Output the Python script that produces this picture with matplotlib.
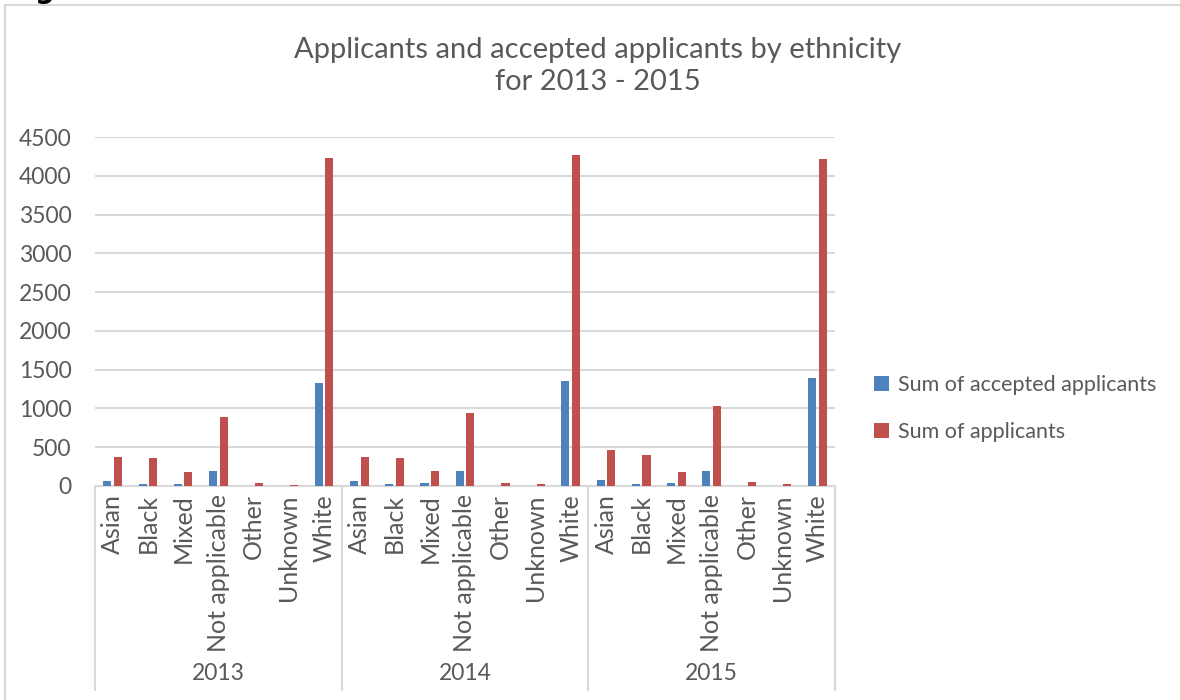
import numpy as np
import matplotlib.pyplot as plt
from matplotlib.transforms import blended_transform_factory
from matplotlib.lines import Line2D

# data
years = ['2013', '2014', '2015']
ethnicities = ['Asian', 'Black', 'Mixed', 'Not applicable', 'Other', 'Unknown', 'White']
accepted = [
    [65, 30, 30, 195, 0, 0, 1328],   # 2013
    [61, 22, 43, 199, 0, 0, 1350],   # 2014
    [78, 30, 43, 199, 0, 0, 1397],   # 2015
]
applicants = [
    [368, 360, 182, 896, 35, 13, 4227],
    [372, 360, 190, 935, 43, 26, 4262],
    [463, 398, 182, 1030, 52, 26, 4222],
]

blue = '#4F81BD'
red = '#C0504D'
grey_txt = '#595959'
grid_c = '#D9D9D9'

plt.rcParams['font.family'] = ['Lato', 'DejaVu Sans']

fig = plt.figure(figsize=(11.8, 7), dpi=100)
ax = fig.add_axes([95 / 1180, 1 - 486 / 700, 740 / 1180, 349 / 700])

acc = np.array(accepted).ravel()
app = np.array(applicants).ravel()
labels = ethnicities * len(years)
x = np.arange(len(labels))

ax.bar(x - 0.15, acc, width=0.23, color=blue, label='Sum of accepted applicants', zorder=3)
ax.bar(x + 0.15, app, width=0.23, color=red, label='Sum of applicants', zorder=3)

ax.set_xlim(-0.5, len(labels) - 0.5)
ax.set_ylim(0, 4500)
ax.set_yticks(np.arange(0, 4501, 500))
ax.yaxis.grid(True, color=grid_c, linewidth=1.5, zorder=0)
ax.tick_params(axis='y', length=0, pad=17, labelsize=16.5, labelcolor=grey_txt)
ax.set_xticks(x)
ax.set_xticklabels(labels, rotation=90, fontsize=18, color=grey_txt)
ax.tick_params(axis='x', length=0, pad=6)

for s in ['top', 'right', 'left']:
    ax.spines[s].set_visible(False)
ax.spines['bottom'].set_color(grid_c)
ax.spines['bottom'].set_linewidth(1.5)

# year group boxes under the axis
tr = blended_transform_factory(ax.transData, ax.transAxes)
ybot = -(690 - 486) / 349
for b in [-0.5, 6.5, 13.5, 20.5]:
    ax.add_line(Line2D([b, b], [0, ybot], transform=tr, color=grid_c, lw=1.5, clip_on=False))
for i, yr in enumerate(years):
    ax.text(i * 7 + 3, -(673 - 486) / 349, yr, transform=tr, ha='center', va='center',
            fontsize=16.5, color=grey_txt)

fig.text(598 / 1180, 1 - 66 / 700, 'Applicants and accepted applicants by ethnicity\nfor 2013 - 2015',
         ha='center', va='center', fontsize=21, color=grey_txt, linespacing=1.3)

ax.legend(loc='center left', bbox_to_anchor=(855 / 740 - 95 / 740, 0.222), frameon=False,
          fontsize=15.5, labelcolor=grey_txt, handlelength=0.7, handleheight=0.7,
          handletextpad=0.4, labelspacing=1.25)

# outer chart border and cropped caption
fig.add_artist(Line2D([5 / 1180, 5 / 1180], [0, 1 - 5 / 700], color=grid_c, lw=1.5))
fig.add_artist(Line2D([5 / 1180, 1], [1 - 5 / 700, 1 - 5 / 700], color=grid_c, lw=1.5))
fig.text(35 / 1180, 1 + 2 / 700, 'g', fontsize=20, fontweight='bold', color='black',
         ha='left', va='baseline', family='DejaVu Sans')

fig.savefig('out.png', dpi=100)
